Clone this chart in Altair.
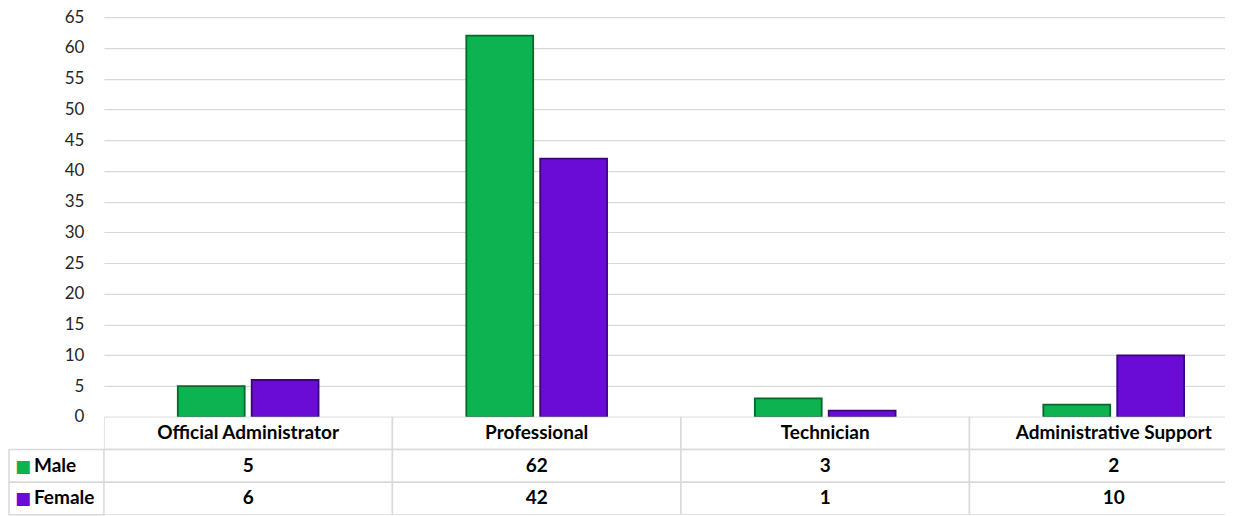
import altair as alt
import pandas as pd

categories = ["Official Administrator", "Professional", "Technician", "Administrative Support"]
sexes = ["Male", "Female"]
male = [5, 62, 3, 2]
female = [6, 42, 1, 10]
y_ticks = list(range(0, 70, 5))

fill_colors = ["#0db350", "#6a0bd6"]
edge_colors = ["#05692b", "#3b0683"]
FONT = "Lato"

rows = []
for c, m, f in zip(categories, male, female):
    rows.append({"category": c, "sex": "Male", "value": m})
    rows.append({"category": c, "sex": "Female", "value": f})
df = pd.DataFrame(rows)

row_names = ["Category", "Male", "Female"]
trows = []
for c, m, f in zip(categories, male, female):
    trows.append({"category": c, "row": "Category", "text": c})
    trows.append({"category": c, "row": "Male", "text": str(m)})
    trows.append({"category": c, "row": "Female", "text": str(f)})
tdf = pd.DataFrame(trows)

ldf = pd.DataFrame({"row": sexes, "sex": sexes, "col": ["legend", "legend"]})

LEFT_W = 95
PLOT_W = 1122
FULL_W = 1155
PLOT_H = 400
TABLE_H = 98

x_scale = alt.Scale(domain=categories, range=[0, FULL_W], paddingInner=0, paddingOuter=0)
color_scale = alt.Scale(domain=sexes, range=fill_colors)
stroke_scale = alt.Scale(domain=sexes, range=edge_colors)

bars = alt.Chart(df).mark_bar(strokeWidth=1.8).encode(
    x=alt.X("category:N", sort=categories, scale=x_scale, axis=None),
    xOffset=alt.XOffset("sex:N", sort=sexes,
                        scale=alt.Scale(domain=sexes, paddingInner=0.095, paddingOuter=1.0)),
    y=alt.Y("value:Q",
            scale=alt.Scale(domain=[0, 65], nice=False),
            axis=alt.Axis(values=y_ticks, grid=True, gridColor="#d9d9d9", gridWidth=1.2,
                          domain=False, ticks=False, labelPadding=20, labelFontSize=17,
                          labelFont=FONT, labelColor="#262626", title=None)),
    color=alt.Color("sex:N", scale=color_scale, legend=None),
    stroke=alt.Stroke("sex:N", scale=stroke_scale, legend=None),
).properties(width=PLOT_W, height=PLOT_H)

spacer = alt.Chart(pd.DataFrame({"v": [0]})).mark_point(opacity=0).properties(width=LEFT_W, height=PLOT_H)

y_rows = alt.Y("row:N", sort=row_names,
               scale=alt.Scale(domain=row_names, paddingInner=0, paddingOuter=0), axis=None)
x_left = alt.Scale(paddingInner=0, paddingOuter=0)

left_cells = alt.Chart(ldf).mark_rect(fill="white", stroke="#d9d9d9", strokeWidth=1.5).encode(
    x=alt.X("col:N", scale=x_left, axis=None),
    y=y_rows,
)
left_glyph = alt.Chart(ldf).mark_text(align="left", baseline="middle", dx=6, dy=1,
                                      fontSize=17, font="DejaVu Sans").encode(
    x=alt.X("col:N", bandPosition=0, scale=x_left, axis=None),
    y=y_rows,
    text=alt.value("■"),
    color=alt.Color("sex:N", scale=color_scale, legend=None),
)
left_text = alt.Chart(ldf).mark_text(align="left", baseline="middle", dx=25,
                                     fontSize=19, fontWeight="bold", font=FONT, color="black").encode(
    x=alt.X("col:N", bandPosition=0, scale=x_left, axis=None),
    y=y_rows,
    text="row:N",
)
left = alt.layer(left_cells, left_glyph, left_text).properties(width=LEFT_W, height=TABLE_H)

cells = alt.Chart(tdf).mark_rect(fill="white", stroke="#d9d9d9", strokeWidth=1.5, clip=True).encode(
    x=alt.X("category:N", sort=categories, scale=x_scale, axis=None),
    y=y_rows,
)
cell_text = alt.Chart(tdf).mark_text(baseline="middle", fontSize=19, fontWeight="bold",
                                     font=FONT, color="black", clip=True).encode(
    x=alt.X("category:N", sort=categories, scale=x_scale, axis=None),
    y=y_rows,
    text="text:N",
)
table = alt.layer(cells, cell_text).properties(width=PLOT_W, height=TABLE_H)

chart = alt.concat(spacer, bars, left, table, columns=2, spacing=0, bounds="flush").properties(
    padding=0, background="white"
).configure_view(stroke=None)

chart.save("out.html", embed_options={"renderer": "svg", "actions": False})
